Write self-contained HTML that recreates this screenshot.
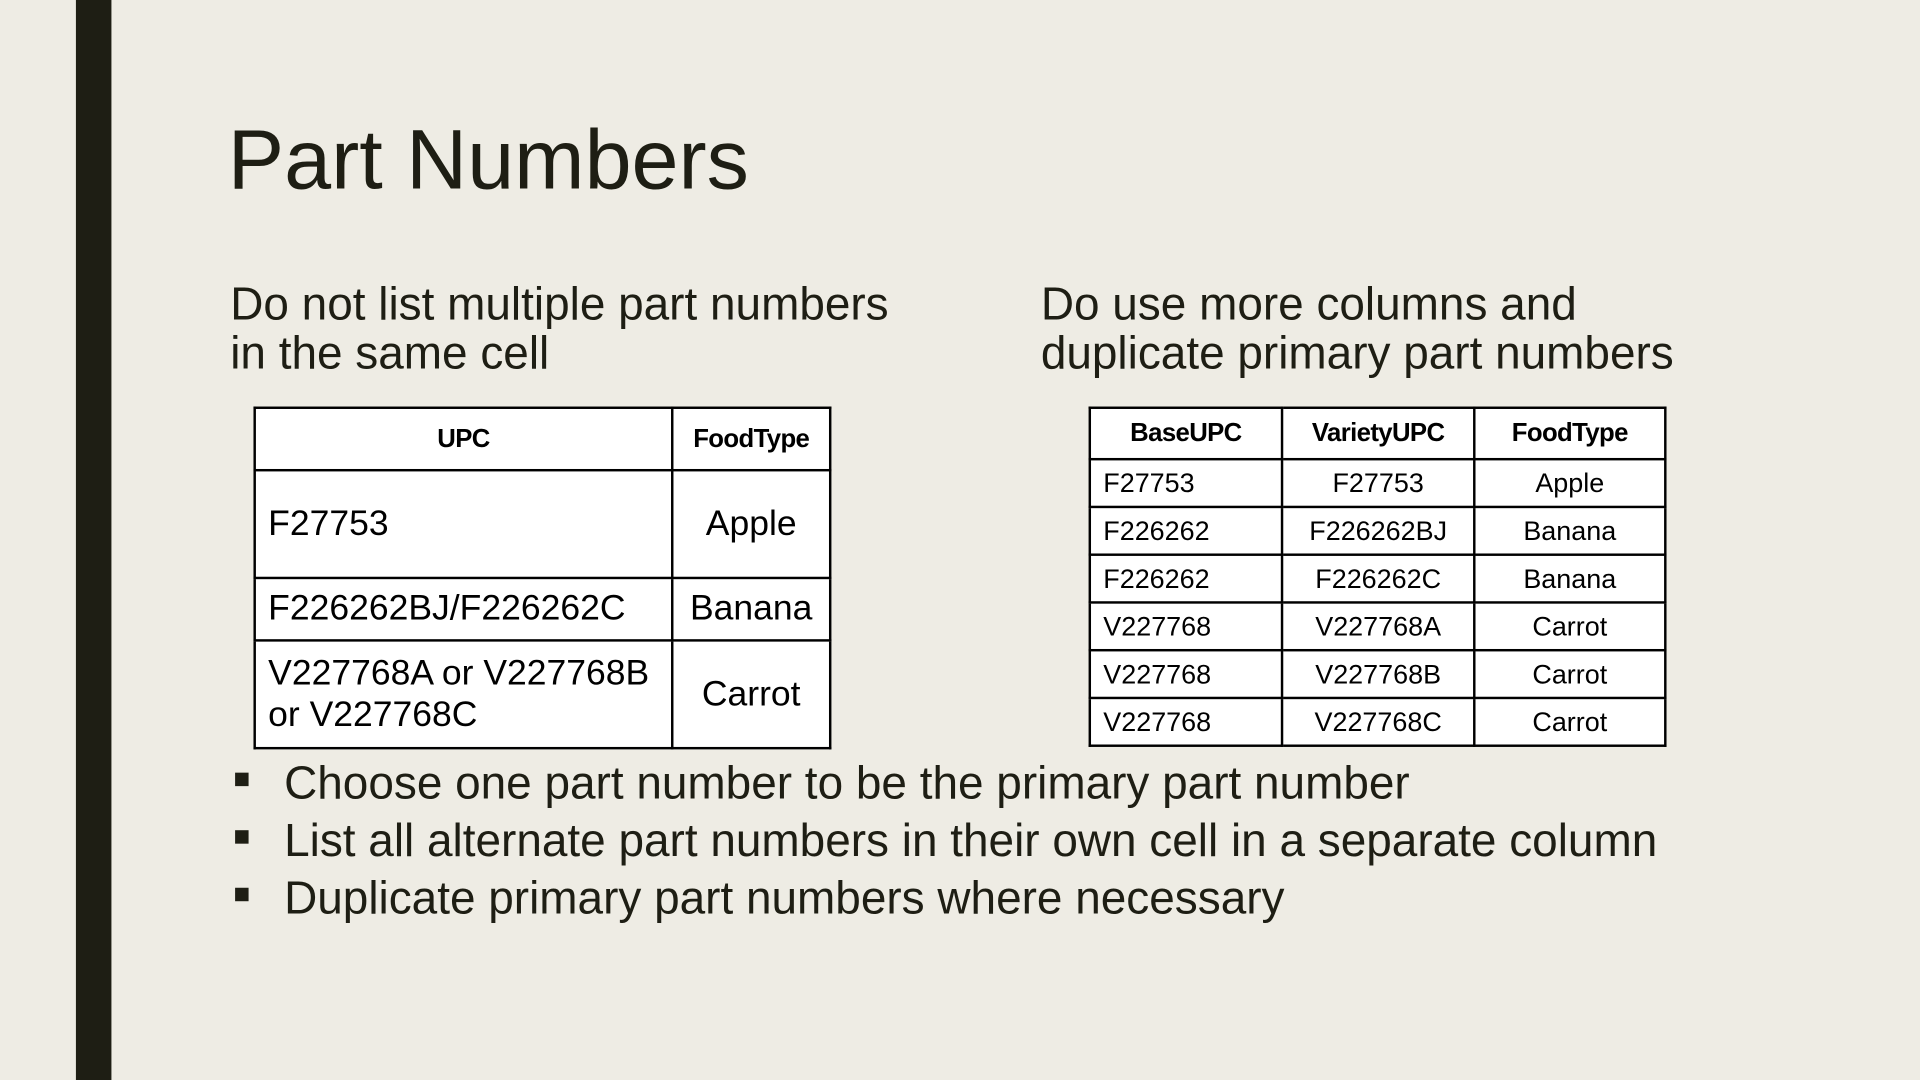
<!DOCTYPE html>
<html><head><meta charset="utf-8"><style>
html,body{margin:0;padding:0;width:1920px;height:1080px;overflow:hidden;background:#EEECE4;}
#s{position:absolute;left:0;top:0;width:1568px;height:882px;transform:scale(1.22449);transform-origin:0 0;font-family:"Liberation Sans",sans-serif;color:#1E1E14;}
.a{position:absolute;white-space:nowrap;}
table{position:absolute;border-collapse:collapse;background:#fff;color:#000;table-layout:fixed;}
td{border:2px solid #000;padding:0 10px;white-space:nowrap;overflow:hidden;}
.b{font-weight:bold;text-align:center;font-size:21px;letter-spacing:-0.5px;}
.c{text-align:center;}
</style></head><body><div id="s">
<div class="a" style="left:62px;top:0;width:29px;height:882px;background:#1E1E14"></div>
<div class="a" style="left:186px;top:91px;font-size:69px;line-height:80px">Part Numbers</div>
<div class="a" style="left:188px;top:228px;font-size:37.5px;line-height:40px">Do not list multiple part numbers<br>in the same cell</div>
<div class="a" style="left:850px;top:228px;font-size:37.5px;line-height:40px">Do use more columns and<br>duplicate primary part numbers</div>
<table style="left:207px;top:332px;width:472px;height:278px;font-size:29px">
<colgroup><col style="width:341px"><col></colgroup>
<tr style="height:51px"><td class="b">UPC</td><td class="b">FoodType</td></tr>
<tr style="height:88px"><td>F27753</td><td class="c">Apple</td></tr>
<tr style="height:51px"><td>F226262BJ/F226262C</td><td class="c">Banana</td></tr>
<tr style="height:88px"><td style="line-height:34px">V227768A or V227768B<br>or V227768C</td><td class="c">Carrot</td></tr>
</table>
<table style="left:889px;top:332px;width:472px;height:278px;font-size:22px">
<colgroup><col style="width:157px"><col style="width:157px"><col></colgroup>
<tr style="height:42px"><td class="b">BaseUPC</td><td class="b">VarietyUPC</td><td class="b">FoodType</td></tr>
<tr><td>F27753</td><td class="c">F27753</td><td class="c">Apple</td></tr>
<tr><td>F226262</td><td class="c">F226262BJ</td><td class="c">Banana</td></tr>
<tr><td>F226262</td><td class="c">F226262C</td><td class="c">Banana</td></tr>
<tr><td>V227768</td><td class="c">V227768A</td><td class="c">Carrot</td></tr>
<tr><td>V227768</td><td class="c">V227768B</td><td class="c">Carrot</td></tr>
<tr><td>V227768</td><td class="c">V227768C</td><td class="c">Carrot</td></tr>
</table>
<div class="a" style="left:192px;top:631px;width:11px;height:11px;background:#1E1E14"></div>
<div class="a" style="left:192px;top:678px;width:11px;height:11px;background:#1E1E14"></div>
<div class="a" style="left:192px;top:725px;width:11px;height:11px;background:#1E1E14"></div>
<div class="a" style="left:232px;top:616px;font-size:37.5px;line-height:47px">Choose one part number to be the primary part number<br>List all alternate part numbers in their own cell in a separate column<br>Duplicate primary part numbers where necessary</div>
</div></body></html>
